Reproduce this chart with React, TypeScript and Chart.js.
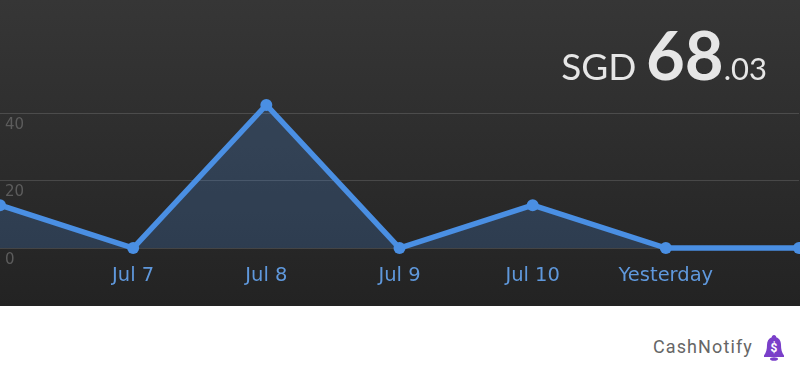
import React, { useEffect, useRef } from "react";
import { Chart, registerables } from "chart.js";

Chart.register(...registerables);

const categories = ["", "Jul 7", "Jul 8", "Jul 9", "Jul 10", "Yesterday", ""];
const values = [12.7, 0, 42.4, 0, 12.7, 0, 0];
const yTicks = [0, 20, 40];
const BLUE = "#4a8fe3";

export default function App() {
  const ref = useRef<HTMLCanvasElement>(null);
  useEffect(() => {
    document.body.style.margin = "0";
    const chart = new Chart(ref.current!, {
      type: "line",
      data: {
        labels: categories,
        datasets: [
          {
            data: values,
            borderColor: BLUE,
            borderWidth: 5.5,
            tension: 0,
            fill: true,
            backgroundColor: "rgba(74,143,227,0.22)",
            pointRadius: 6,
            pointBorderWidth: 0,
            pointBackgroundColor: BLUE,
            clip: false as any,
          },
        ],
      },
      options: {
        animation: false,
        responsive: false,
        layout: { autoPadding: false, padding: { left: 0, right: 1, top: 0, bottom: 0 } },
        plugins: { legend: { display: false }, tooltip: { enabled: false } },
        scales: {
          x: {
            offset: false,
            afterFit: (s: any) => { s.height = 58; s.paddingLeft = 0; s.paddingRight = 0; },
            grid: { display: false },
            border: { display: false },
            ticks: {
              color: "#5f98dc",
              font: { family: "'DejaVu Sans'", size: 19.5 },
              padding: 8,
              maxRotation: 0,
              autoSkip: false,
            },
          },
          y: {
            min: 0,
            max: 73.5,
            afterBuildTicks: (s: any) => { s.ticks = yTicks.map((value) => ({ value })); },
            afterFit: (s: any) => { s.width = 0; s.paddingTop = 0; s.paddingBottom = 0; },
            grid: { color: "rgba(255,255,255,0.14)", lineWidth: 1, drawTicks: false },
            border: { display: false },
            ticks: {
              mirror: true,
              padding: 5,
              labelOffset: 12,
              color: "#5c5c5c",
              font: { family: "'DejaVu Sans'", size: 15 },
            },
          },
        },
      },
    });
    return () => chart.destroy();
  }, []);
  return (
    <div style={{ position: "relative", width: 800, height: 373, background: "#fff", overflow: "hidden" }}>
      <div style={{ position: "absolute", left: 0, top: 0, width: 800, height: 306, background: "linear-gradient(#363636,#232323)" }} />
      <canvas ref={ref} width={800} height={306} style={{ position: "absolute", left: 0, top: 0, display: "block" }} />
      <div
        style={{
          position: "absolute",
          right: 33,
          top: 14,
          fontFamily: "Lato",
          color: "#e6e6e6",
          lineHeight: "80px",
          whiteSpace: "nowrap",
          fontWeight: 400,
        }}
      >
        <span style={{ fontSize: 37 }}>SGD </span>
        <span style={{ fontSize: 67, fontWeight: 700 }}>68</span>
        <span style={{ fontSize: 31 }}>.03</span>
      </div>
      <div
        style={{
          position: "absolute",
          left: 653,
          top: 336,
          fontFamily: "Roboto",
          fontSize: 18,
          letterSpacing: 1.1,
          color: "#666",
          lineHeight: "22px",
          whiteSpace: "nowrap",
        }}
      >
        CashNotify
      </div>
      <svg style={{ position: "absolute", left: 763, top: 334 }} width={22} height={28} viewBox="0 0 22 28">
        <path d="M11 1c1.4 0 2.2 1 2.2 2.2C16.6 4.4 18 7.5 18 11c0 4 .8 8 3 10.5V23H1v-1.5C3.200 19 4 15 4 11c0-3.500 1.400-6.600 4.800-7.800C8.800 2 9.600 1 11 1z" fill="#7a3fc9" />
        <ellipse cx="11" cy="25" rx="4" ry="1.800" fill="#7a3fc9" />
        <text x="11" y="18" textAnchor="middle" fontFamily="Roboto" fontWeight="700" fontSize="12" fill="#fff">$</text>
      </svg>
    </div>
  );
}
